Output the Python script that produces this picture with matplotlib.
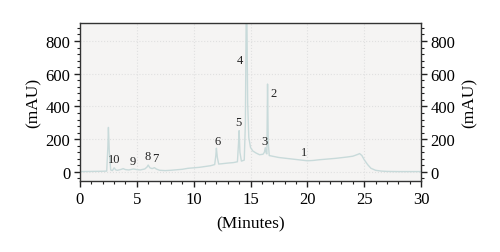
import matplotlib
matplotlib.use("Agg")
import matplotlib.pyplot as plt
from matplotlib.ticker import MultipleLocator

# chromatogram trace (minutes, mAU)
times = [0.0, 1.0, 2.0, 2.35, 2.45, 2.5, 2.58, 2.7, 2.85, 3.0, 3.15, 3.3, 3.6, 3.8, 4.0, 4.3,
         4.7, 5.0, 5.3, 5.7, 5.9, 6.0, 6.15, 6.35, 6.55, 6.7, 7.0, 7.5, 8.0, 8.5, 9.0, 9.5,
         10.0, 10.5, 11.0, 11.5, 11.85, 11.95, 12.0, 12.08, 12.2, 12.5, 13.0, 13.5, 13.85,
         13.95, 14.0, 14.07, 14.2, 14.45, 14.55, 14.62, 14.68, 14.75, 14.85, 15.0, 15.2,
         15.5, 15.8, 16.1, 16.22, 16.3, 16.38, 16.44, 16.5, 16.56, 16.65, 17.0, 17.5, 18.0,
         18.5, 19.0, 19.5, 20.0, 20.5, 21.0, 21.5, 22.0, 22.5, 23.0, 23.5, 24.0, 24.4, 24.6,
         24.8, 25.0, 25.3, 25.6, 26.0, 26.5, 27.0, 28.0, 29.0, 30.0]
signal = [2, 3, 4, 5, 150, 272, 120, 12, 8, 25, 12, 10, 15, 20, 14, 12,
          18, 14, 12, 18, 30, 42, 25, 20, 26, 18, 10, 8, 10, 13, 16, 22,
          25, 28, 33, 38, 45, 100, 145, 90, 48, 50, 54, 57, 62,
          180, 252, 120, 66, 72, 300, 960, 960, 420, 210, 150, 128,
          115, 105, 108, 120, 148, 115, 110, 537, 180, 100, 95, 88, 84,
          80, 76, 72, 68, 70, 74, 77, 80, 83, 87, 91, 96, 106, 112,
          100, 75, 45, 22, 10, 5, 3, 2, 2, 2]

peak_labels = ["10", "9", "8", "7", "6", "5", "4", "3", "2", "1"]
label_t = [3.0, 4.6, 5.98, 6.6, 12.08, 13.96, 14.07, 16.2, 17.0, 19.7]
label_v = [78, 66, 95, 88, 186, 306, 682, 188, 483, 123]

x_ticks = [0, 5, 10, 15, 20, 25, 30]
y_ticks = [0, 200, 400, 600, 800]

serif = ["Liberation Serif", "DejaVu Serif"]
plt.rcParams["font.family"] = serif

fig = plt.figure(figsize=(5.0, 2.53), dpi=100)
ax = fig.add_axes([0.16, 0.281, 0.682, 0.624])
ax.set_facecolor("#f5f4f3")
ax.plot(times, signal, color="#c8dada", lw=1.0)

ax.set_xlim(0, 30)
ax.set_ylim(-55, 910)
ax.set_xticks(x_ticks)
ax.set_yticks(y_ticks)
ax.xaxis.set_minor_locator(MultipleLocator(1))
ax.yaxis.set_minor_locator(MultipleLocator(40))
ax.grid(True, which="major", color="#e0e0e0", ls=":", lw=0.8)
ax.tick_params(which="both", direction="out", labelsize=12, color="#222222",
               right=True, labelright=True)
ax.tick_params(which="major", length=4, width=1, pad=3)
ax.tick_params(which="minor", length=2, width=0.8)
for s in ax.spines.values():
    s.set_linewidth(1.0)
    s.set_color("#333333")
ax.set_xlabel("(Minutes)", fontsize=12.5, labelpad=6)
ax.set_ylabel("(mAU)", fontsize=12.5, labelpad=3)
ax2 = ax.secondary_yaxis("right")
ax2.set_yticks([])
ax2.set_ylabel("(mAU)", fontsize=12.5, labelpad=29)
ax2.spines["right"].set_visible(False)

for lab, t, v in zip(peak_labels, label_t, label_v):
    ax.text(t, v, lab, fontsize=9, ha="center", va="center", color="#222222")

fig.savefig("out.png", dpi=100)
